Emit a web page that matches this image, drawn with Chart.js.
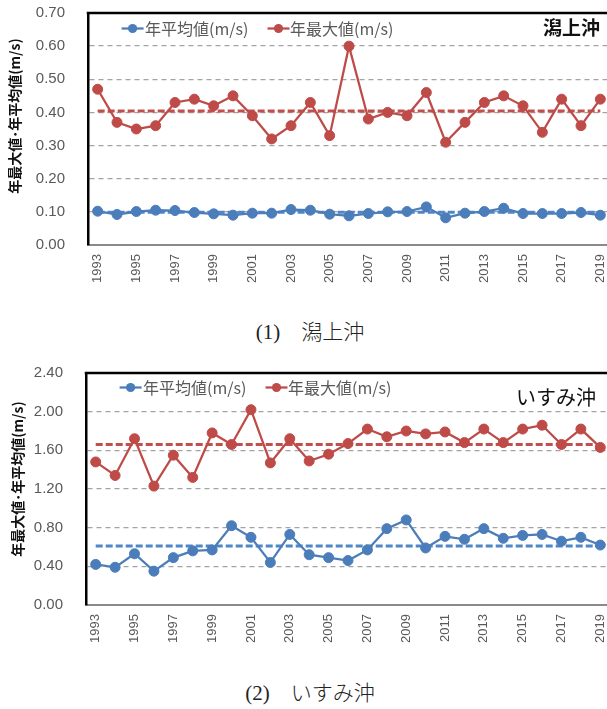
<!DOCTYPE html>
<html><head><meta charset="utf-8">
<script src="https://cdn.jsdelivr.net/npm/chart.js@4"></script>
<style>
html,body{margin:0;padding:0;background:#fff;overflow:hidden;width:607px;height:709px;}
.wrap{position:absolute;left:0;width:616px;height:300px;}
.cap{position:absolute;left:0;width:620px;text-align:center;font-size:21px;color:#222;
 font-family:"Liberation Serif","Noto Sans CJK JP",serif;line-height:24px;}
.cap .j{font-family:"Noto Sans CJK JP",sans-serif;font-weight:300;}
</style></head>
<body>
<div class="wrap" style="top:0"><canvas id="c1" width="616" height="300"></canvas></div>
<div class="cap" style="top:318px">(1)　<span class="j">潟上沖</span></div>
<div class="wrap" style="top:360px"><canvas id="c2" width="616" height="300"></canvas></div>
<div class="cap" style="top:679px">(2)　<span class="j">いすみ沖</span></div>
<script>
const years = ['1993','1994','1995','1996','1997','1998','1999','2000','2001','2002','2003','2004','2005','2006','2007','2008','2009','2010','2011','2012','2013','2014','2015','2016','2017','2018','2019'];
const seriesNames = ['年平均値(m/s)','年最大値(m/s)'];
const yTitle = '年最大値･年平均値(m/s)';

// (1) 潟上沖
const kataAvg = [0.102,0.092,0.101,0.105,0.104,0.098,0.094,0.090,0.096,0.096,0.107,0.105,0.093,0.088,0.095,0.100,0.101,0.115,0.082,0.096,0.101,0.111,0.095,0.095,0.095,0.098,0.090];
const kataMax = [0.47,0.37,0.35,0.36,0.43,0.44,0.42,0.45,0.39,0.32,0.36,0.43,0.33,0.60,0.38,0.40,0.39,0.46,0.31,0.37,0.43,0.45,0.42,0.34,0.44,0.36,0.44];
const kataAvgMean = 0.099;
const kataMaxMean = 0.404;
const kataTicks = {max:0.70, step:0.05};

// (2) いすみ沖
const isumiAvg = [0.42,0.39,0.53,0.35,0.49,0.56,0.57,0.82,0.70,0.44,0.73,0.52,0.49,0.46,0.57,0.79,0.88,0.59,0.71,0.68,0.79,0.69,0.72,0.73,0.66,0.70,0.62];
const isumiMax = [1.48,1.34,1.72,1.23,1.55,1.32,1.78,1.66,2.02,1.47,1.72,1.49,1.56,1.67,1.82,1.74,1.80,1.77,1.79,1.68,1.82,1.68,1.82,1.86,1.66,1.82,1.63];
const isumiAvgMean = 0.61;
const isumiMaxMean = 1.66;
const isumiTicks = {max:2.40, step:0.20};

const BLUE = '#4a7dba', RED = '#be4b48', BLUE_M = '#4f86c8', RED_M = '#c0504d';
const GREY = '#595959';
const CJK = '"Noto Sans CJK JP","Noto Sans",sans-serif';

function extrasPlugin(o){
  return {
    id:'extras',
    afterDraw(chart){
      const c = chart.ctx, a = chart.chartArea;
      c.save();
      c.strokeStyle = '#000'; c.lineWidth = 2.5;
      c.beginPath(); c.moveTo(a.left-1.25, a.top); c.lineTo(a.right, a.top); c.lineTo(a.right, a.bottom); c.stroke();
      const ly = a.top + o.legendY;
      const items = [{col:BLUE, cx:a.left+44.6, tx:a.left+57, name:seriesNames[0]},
                     {col:RED,  cx:a.left+190.5, tx:a.left+202, name:seriesNames[1]}];
      c.font = '16px ' + CJK;
      c.textBaseline = 'middle';
      items.forEach(it=>{
        const w = c.measureText(it.name).width;
        c.fillStyle = '#fff';
        c.fillRect(it.cx-12, ly-7, (it.tx - it.cx + 12) + w + 1, 14);
        c.strokeStyle = it.col; c.lineWidth = 2.25;
        c.beginPath(); c.moveTo(it.cx-11, ly); c.lineTo(it.cx+11, ly); c.stroke();
        c.fillStyle = it.col;
        c.beginPath(); c.arc(it.cx, ly, 4.6, 0, Math.PI*2); c.fill();
        c.fillStyle = GREY; c.textAlign = 'left';
        c.fillText(it.name, it.tx, ly+0.5);
      });
      c.font = o.titleFont;
      c.fillStyle = '#111'; c.textAlign = 'right'; c.textBaseline = 'middle';
      c.fillText(o.title, o.titleX, a.top + o.titleDY);
      c.translate(o.yTitleX, o.yTitleY);
      c.rotate(-Math.PI/2);
      c.font = 'bold 14px ' + CJK;
      c.fillStyle = '#111'; c.textAlign = 'center'; c.textBaseline = 'middle';
      c.fillText(yTitle, 0, 0);
      c.restore();
    }
  };
}

function makeChart(id, avg, mx, avgMean, maxMean, tk, o){
  const n = years.length;
  const meanA = new Array(n).fill(avgMean);
  const meanM = new Array(n).fill(maxMean);
  return new Chart(document.getElementById(id), {
    type:'line',
    data:{
      labels: years,
      datasets:[
        {label:seriesNames[0], data:avg, borderColor:BLUE, backgroundColor:BLUE, pointBackgroundColor:BLUE,
         pointBorderColor:BLUE, borderWidth:2.25, pointRadius:5, pointBorderWidth:1, tension:0},
        {label:seriesNames[1], data:mx, borderColor:RED, backgroundColor:RED, pointBackgroundColor:RED,
         pointBorderColor:RED, borderWidth:2.25, pointRadius:5, pointBorderWidth:1, tension:0},
        {label:'mean_avg', data:meanA, borderColor:BLUE_M, borderWidth:3, borderDash:[7,3], pointRadius:0},
        {label:'mean_max', data:meanM, borderColor:RED_M, borderWidth:3, borderDash:[7,3], pointRadius:0}
      ]
    },
    options:{
      responsive:false, animation:false, devicePixelRatio:1,
      layout:{padding:{top:13, left:0, right:0, bottom:0}},
      plugins:{legend:{display:false}, title:{display:false}, tooltip:{enabled:false}},
      scales:{
        x:{
          type:'category', offset:true,
          grid:{display:false, drawTicks:false},
          border:{display:true, color:'#8a8a8a', width:2},
          ticks:{autoSkip:false, minRotation:90, maxRotation:90, padding:9, color:GREY,
                 font:{size:13, family:'"Liberation Sans","Noto Sans",sans-serif'},
                 callback:(v,i)=> i%2===0 ? years[i] : ''},
          afterFit:(s)=>{ s.height = 55; s.paddingLeft = 0; s.paddingRight = 0; s.paddingTop = 0; s.paddingBottom = 0; }
        },
        y:{
          min:0, max:tk.max,
          grid:{drawTicks:false,
                color:(ctx)=> ctx.index%2===0 ? '#a3a3a3' : '#b5b5b5',
                lineWidth:(ctx)=> ctx.index%2===0 ? 1.3 : 1},
          border:{display:true, color:'#000', width:2.5,
                  dash:(ctx)=> ctx.index%2===0 ? [5,4] : [2,2]},
          ticks:{stepSize:tk.step, padding:23, color:GREY,
                 font:{size:15, family:'"Liberation Sans","Noto Sans",sans-serif'},
                 callback:(v,i)=> i%2===0 ? Number(v).toFixed(2) : ''},
          afterFit:(s)=>{ s.width = o.axisW; s.paddingTop = 0; s.paddingBottom = 0; s.paddingLeft = 0; s.paddingRight = 0; }
        }
      }
    },
    plugins:[extrasPlugin(o)]
  });
}

makeChart('c1', kataAvg, kataMax, kataAvgMean, kataMaxMean, kataTicks,
  {axisW:88, legendY:15.5, title:'潟上沖', titleFont:'bold 19px '+CJK, titleX:600, titleDY:15,
   yTitleX:15, yTitleY:116});
makeChart('c2', isumiAvg, isumiMax, isumiAvgMean, isumiMaxMean, isumiTicks,
  {axisW:86, legendY:14.5, title:'いすみ沖', titleFont:'20px '+CJK, titleX:596, titleDY:24,
   yTitleX:18, yTitleY:119});
</script>
</body></html>
